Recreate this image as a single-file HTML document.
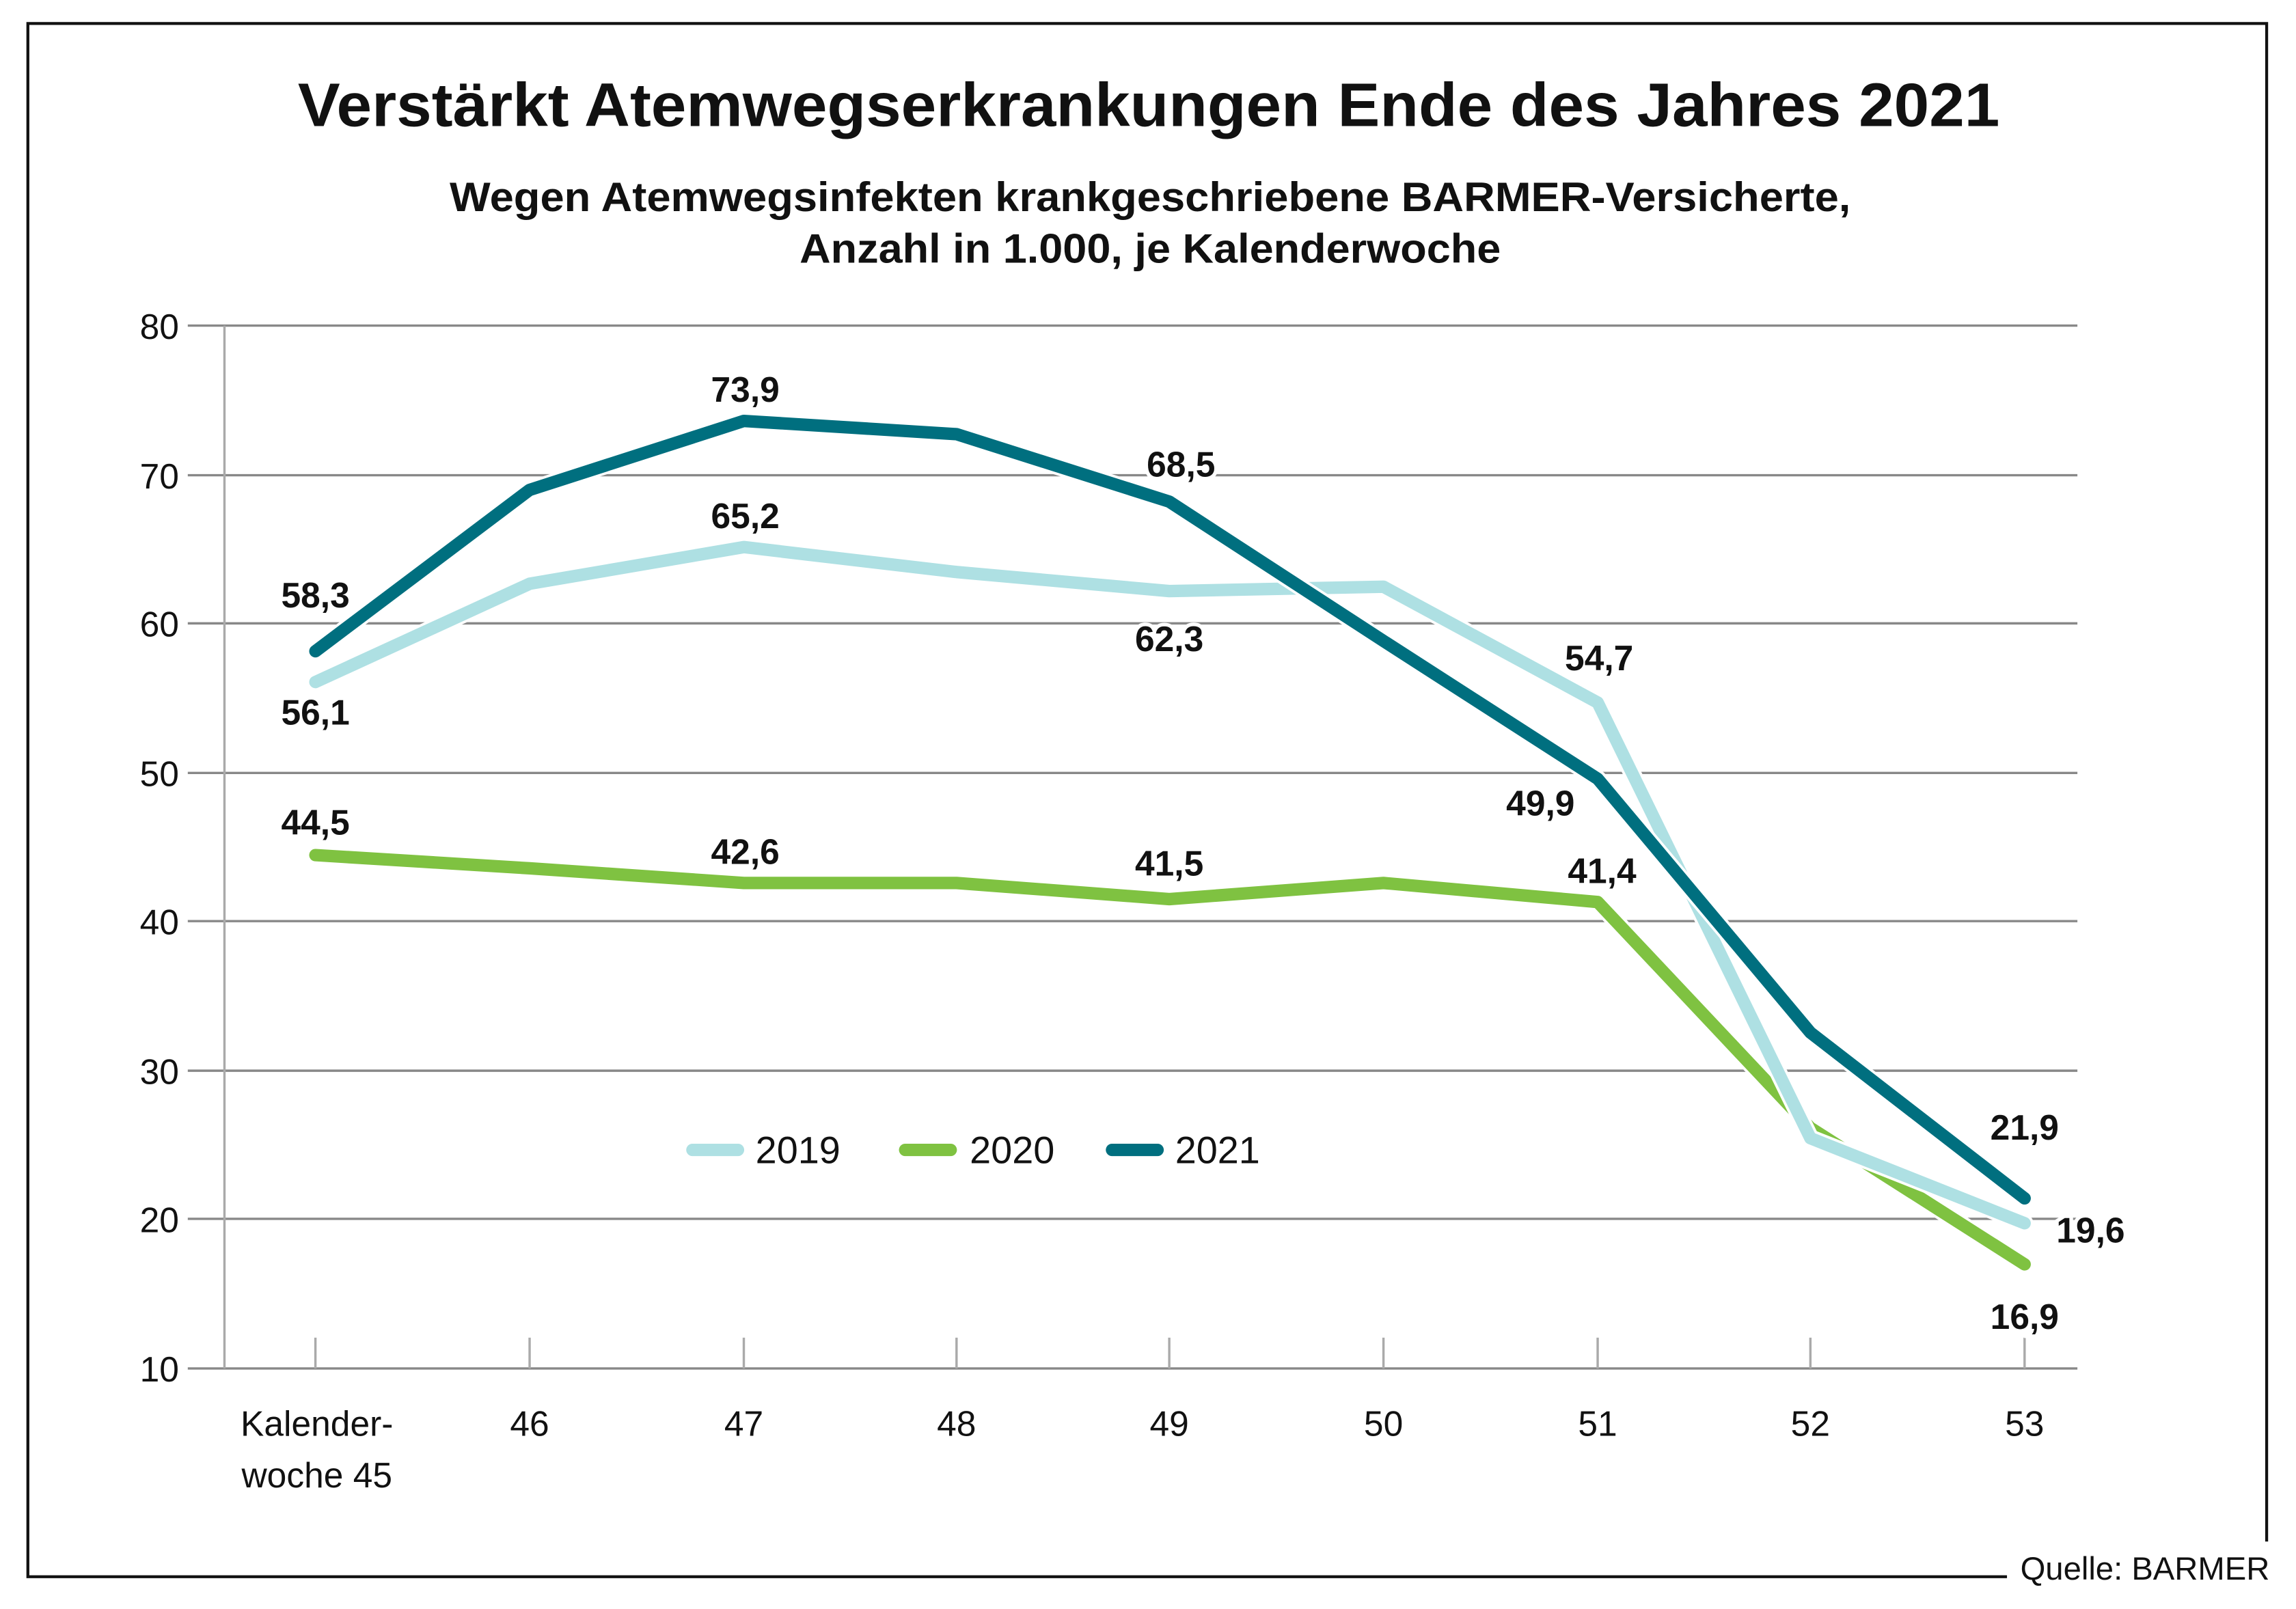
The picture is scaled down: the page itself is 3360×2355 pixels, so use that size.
<!DOCTYPE html>
<html><head><meta charset="utf-8"><style>html,body{margin:0;padding:0;background:#fff}svg{display:block}
text{font-family:"Liberation Sans",sans-serif;fill:#111}</style></head><body>
<svg width="3360" height="2355" viewBox="0 0 1565 1097" preserveAspectRatio="none" xmlns="http://www.w3.org/2000/svg">
<rect width="1565" height="1097" fill="#fff"/>
<polyline points="1368,1075 19,1075 19,16 1545,16 1545,1051" fill="none" stroke="#111" stroke-width="2"/>
<text x="783" y="86" text-anchor="middle" font-size="42" font-weight="bold" textLength="1160" lengthAdjust="spacingAndGlyphs">Verstärkt Atemwegserkrankungen Ende des Jahres 2021</text>
<text x="784" y="144" text-anchor="middle" font-size="28" font-weight="bold" textLength="955" lengthAdjust="spacingAndGlyphs">Wegen Atemwegsinfekten krankgeschriebene BARMER-Versicherte,</text>
<text x="784" y="179" text-anchor="middle" font-size="28" font-weight="bold" textLength="478" lengthAdjust="spacingAndGlyphs">Anzahl in 1.000, je Kalenderwoche</text>
<g stroke="#888" stroke-width="1.6">
<line x1="128" y1="222" x2="1416" y2="222"/><line x1="128" y1="324" x2="1416" y2="324"/>
<line x1="128" y1="425" x2="1416" y2="425"/><line x1="128" y1="527" x2="1416" y2="527"/>
<line x1="128" y1="628" x2="1416" y2="628"/><line x1="128" y1="730" x2="1416" y2="730"/>
<line x1="128" y1="831" x2="1416" y2="831"/><line x1="128" y1="933" x2="1416" y2="933"/>
</g>
<g stroke="#aaa" stroke-width="1.6">
<line x1="153" y1="222" x2="153" y2="933"/>
<line x1="215" y1="912" x2="215" y2="933"/><line x1="361" y1="912" x2="361" y2="933"/>
<line x1="507" y1="912" x2="507" y2="933"/><line x1="652" y1="912" x2="652" y2="933"/>
<line x1="797" y1="912" x2="797" y2="933"/><line x1="943" y1="912" x2="943" y2="933"/>
<line x1="1089" y1="912" x2="1089" y2="933"/><line x1="1234" y1="912" x2="1234" y2="933"/>
<line x1="1380" y1="912" x2="1380" y2="933"/>
</g>
<g font-size="24" text-anchor="end">
<text x="122" y="231">80</text><text x="122" y="333">70</text><text x="122" y="434">60</text>
<text x="122" y="536">50</text><text x="122" y="637">40</text><text x="122" y="739">30</text>
<text x="122" y="840">20</text><text x="122" y="942">10</text>
</g>
<g font-size="24" text-anchor="middle">
<text x="216" y="979">Kalender-</text><text x="216" y="1014">woche 45</text>
<text x="361" y="979">46</text><text x="507" y="979">47</text><text x="652" y="979">48</text>
<text x="797" y="979">49</text><text x="943" y="979">50</text><text x="1089" y="979">51</text>
<text x="1234" y="979">52</text><text x="1380" y="979">53</text>
</g>
<g fill="none" stroke-linejoin="round" stroke-linecap="round">
<polyline stroke="#fff" stroke-width="12" points="215,583 361,592 507,602 652,602 797,613 943,602 1089,615 1234,769 1380,862"/>
<polyline stroke="#7fc241" stroke-width="8.5" points="215,583 361,592 507,602 652,602 797,613 943,602 1089,615 1234,769 1380,862"/>
<polyline stroke="#fff" stroke-width="12" points="215,465 361,398 507,373 652,390 797,403 943,400 1089,479 1234,776 1380,834"/>
<polyline stroke="#aee0e3" stroke-width="8.5" points="215,465 361,398 507,373 652,390 797,403 943,400 1089,479 1234,776 1380,834"/>
<polyline stroke="#fff" stroke-width="12" points="215,444 361,334 507,287 652,296 797,342 943,437 1089,531 1234,704 1380,817"/>
<polyline stroke="#006f7f" stroke-width="8.5" points="215,444 361,334 507,287 652,296 797,342 943,437 1089,531 1234,704 1380,817"/>
</g>
<g font-size="24" font-weight="bold" text-anchor="middle" stroke="#fff" stroke-width="5" paint-order="stroke">
<text x="215" y="414">58,3</text><text x="215" y="494">56,1</text>
<text x="508" y="274">73,9</text><text x="508" y="360">65,2</text>
<text x="805" y="325">68,5</text><text x="797" y="444">62,3</text>
<text x="1090" y="457">54,7</text><text x="1050" y="556">49,9</text>
<text x="215" y="569">44,5</text><text x="508" y="589">42,6</text>
<text x="797" y="597">41,5</text><text x="1092" y="602">41,4</text>
<text x="1380" y="777">21,9</text><text x="1425" y="847">19,6</text><text x="1380" y="906">16,9</text>
</g>
<g stroke-width="8.5" stroke-linecap="round">
<line x1="472" y1="784" x2="503" y2="784" stroke="#aee0e3"/>
<line x1="617" y1="784" x2="648" y2="784" stroke="#7fc241"/>
<line x1="758" y1="784" x2="789" y2="784" stroke="#006f7f"/>
</g>
<g font-size="26">
<text x="515" y="793">2019</text><text x="661" y="793">2020</text><text x="801" y="793">2021</text>
</g>
<text x="1547" y="1077" font-size="22" text-anchor="end">Quelle: BARMER</text>
</svg>
</body></html>
